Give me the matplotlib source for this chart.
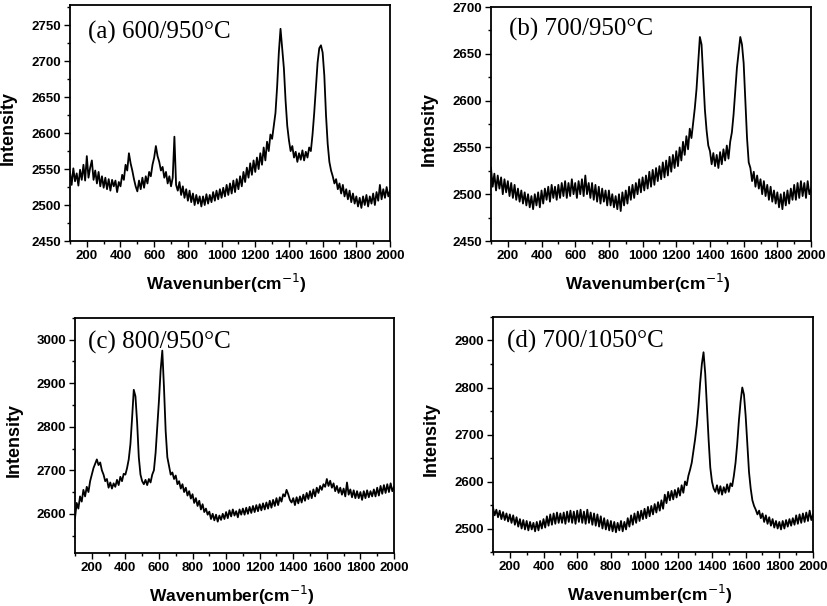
import numpy as np
import matplotlib
matplotlib.use("Agg")
import matplotlib.pyplot as plt
from matplotlib.ticker import MultipleLocator

plt.rcParams['font.family'] = ['Liberation Sans', 'DejaVu Sans']

# wavenumber grid, 100..2000 cm-1 every 10
wavenumber = np.arange(100, 2001, 10)

# (a) 600/950°C
spec_a = [
    2546, 2528, 2551, 2533, 2544, 2527, 2549, 2535, 2556, 2534,
    2568, 2538, 2552, 2562, 2535, 2548, 2530, 2546, 2526, 2540,
    2524, 2538, 2522, 2536, 2520, 2535, 2526, 2534, 2518, 2532,
    2526, 2542, 2535, 2556, 2548, 2572, 2558, 2548, 2536, 2526,
    2519, 2534, 2522, 2538, 2524, 2540, 2530, 2546, 2540, 2556,
    2566, 2582, 2568, 2560, 2548, 2553, 2538, 2546, 2530, 2540,
    2526, 2538, 2595, 2528, 2520, 2532, 2514, 2526, 2510, 2522,
    2506, 2520, 2504, 2516, 2500, 2514, 2502, 2512, 2498, 2512,
    2500, 2515, 2502, 2514, 2504, 2518, 2506, 2520, 2508, 2522,
    2510, 2524, 2512, 2528, 2514, 2530, 2516, 2534, 2518, 2536,
    2522, 2540, 2526, 2546, 2532, 2552, 2538, 2558, 2542, 2562,
    2546, 2566, 2550, 2572, 2556, 2580, 2562, 2588, 2575, 2598,
    2592, 2610, 2628, 2665, 2712, 2745, 2718, 2690, 2645, 2610,
    2590, 2575, 2582, 2566, 2574, 2560, 2572, 2563, 2576, 2562,
    2574, 2566, 2580, 2575, 2598, 2628, 2662, 2698, 2718, 2722,
    2712, 2680, 2625, 2585, 2560, 2548, 2540, 2530, 2536, 2522,
    2530, 2516, 2528, 2512, 2522, 2508, 2520, 2504, 2516, 2502,
    2512, 2498, 2510, 2496, 2512, 2500, 2514, 2498, 2512, 2502,
    2516, 2500, 2518, 2506, 2528, 2508, 2522, 2510, 2525, 2512,
    2520,
]

# (b) 700/950°C
spec_b = [
    2528, 2508, 2522, 2504, 2520, 2506, 2518, 2500, 2516, 2502,
    2514, 2498, 2512, 2496, 2510, 2494, 2506, 2492, 2504, 2490,
    2502, 2488, 2500, 2486, 2498, 2484, 2500, 2488, 2502, 2486,
    2504, 2490, 2506, 2494, 2508, 2492, 2510, 2496, 2508, 2494,
    2510, 2496, 2512, 2498, 2514, 2496, 2512, 2498, 2516, 2500,
    2512, 2496, 2514, 2500, 2516, 2498, 2520, 2500, 2512, 2496,
    2512, 2494, 2510, 2492, 2508, 2490, 2506, 2492, 2504, 2488,
    2504, 2488, 2500, 2486, 2498, 2484, 2500, 2482, 2502, 2488,
    2504, 2490, 2508, 2494, 2510, 2496, 2512, 2500, 2516, 2502,
    2518, 2504, 2520, 2506, 2524, 2508, 2526, 2510, 2528, 2514,
    2530, 2516, 2534, 2518, 2536, 2520, 2540, 2524, 2542, 2528,
    2546, 2530, 2550, 2536, 2556, 2542, 2562, 2548, 2570, 2560,
    2576, 2592, 2612, 2640, 2668, 2660, 2625, 2590, 2568, 2552,
    2546, 2532, 2544, 2530, 2542, 2528, 2545, 2532, 2548, 2536,
    2552, 2538, 2556, 2566, 2585, 2610, 2635, 2652, 2668, 2660,
    2640, 2600, 2560, 2534, 2528, 2514, 2524, 2508, 2520, 2506,
    2516, 2500, 2514, 2498, 2510, 2494, 2508, 2492, 2504, 2490,
    2502, 2486, 2500, 2484, 2502, 2488, 2504, 2490, 2506, 2494,
    2510, 2494, 2512, 2496, 2514, 2498, 2512, 2496, 2514, 2500,
    2506,
]

# (c) 800/950°C
spec_c = [
    2590, 2625, 2612, 2640, 2628, 2655, 2640, 2662, 2650, 2675,
    2690, 2705, 2715, 2725, 2712, 2718, 2700, 2690, 2675, 2680,
    2660, 2672, 2658, 2670, 2662, 2678, 2666, 2685, 2675, 2692,
    2690, 2705, 2725, 2760, 2820, 2885, 2870, 2810, 2730, 2690,
    2675, 2668, 2678, 2666, 2680, 2672, 2690, 2700, 2740, 2800,
    2860, 2930, 2975, 2890, 2790, 2730, 2710, 2690, 2695, 2680,
    2688, 2668, 2675, 2658, 2668, 2650, 2660, 2642, 2652, 2635,
    2645, 2625, 2636, 2618, 2630, 2610, 2622, 2604, 2612, 2598,
    2605, 2588, 2600, 2585, 2598, 2582, 2596, 2586, 2600, 2588,
    2604, 2590, 2608, 2594, 2610, 2596, 2606, 2592, 2610, 2598,
    2612, 2598, 2614, 2600, 2616, 2602, 2618, 2604, 2620, 2606,
    2622, 2608, 2624, 2610, 2626, 2612, 2630, 2614, 2632, 2618,
    2636, 2620, 2638, 2628, 2645, 2640, 2655, 2645, 2632, 2626,
    2636, 2620, 2638, 2624, 2640, 2626, 2644, 2630, 2648, 2634,
    2652, 2636, 2656, 2640, 2660, 2648, 2664, 2655, 2668, 2662,
    2680, 2664, 2676, 2660, 2670, 2652, 2664, 2648, 2660, 2644,
    2658, 2640, 2672, 2644, 2656, 2638, 2654, 2636, 2652, 2636,
    2650, 2632, 2652, 2636, 2654, 2638, 2652, 2640, 2656, 2640,
    2660, 2642, 2664, 2646, 2666, 2648, 2668, 2650, 2670, 2652,
    2662,
]

# (d) 700/1050°C
spec_d = [
    2545, 2528, 2540, 2524, 2538, 2520, 2535, 2518, 2532, 2515,
    2530, 2512, 2528, 2508, 2524, 2504, 2520, 2500, 2518, 2498,
    2516, 2496, 2514, 2498, 2512, 2494, 2514, 2496, 2516, 2500,
    2520, 2502, 2526, 2506, 2530, 2508, 2532, 2510, 2534, 2512,
    2532, 2512, 2534, 2510, 2536, 2514, 2538, 2512, 2536, 2510,
    2538, 2514, 2540, 2512, 2536, 2510, 2540, 2512, 2534, 2508,
    2532, 2506, 2530, 2504, 2526, 2500, 2522, 2498, 2518, 2496,
    2516, 2494, 2514, 2492, 2512, 2496, 2516, 2494, 2514, 2498,
    2522, 2504, 2528, 2508, 2532, 2512, 2536, 2516, 2538, 2520,
    2542, 2522, 2546, 2526, 2548, 2530, 2552, 2534, 2556, 2538,
    2560, 2542, 2572, 2554, 2578, 2560, 2580, 2562, 2582, 2566,
    2586, 2570, 2592, 2576, 2600, 2592, 2612, 2625, 2640, 2665,
    2690, 2720, 2760, 2810, 2850, 2875, 2830, 2760, 2690, 2630,
    2600, 2585, 2578, 2592, 2574, 2590, 2572, 2588, 2576, 2594,
    2578, 2596, 2590, 2612, 2640, 2680, 2730, 2770, 2800, 2785,
    2740, 2680, 2620, 2585, 2560, 2548, 2540, 2530, 2538, 2522,
    2532, 2514, 2528, 2510, 2524, 2506, 2520, 2502, 2516, 2500,
    2514, 2498, 2516, 2500, 2518, 2504, 2520, 2506, 2522, 2508,
    2528, 2510, 2530, 2512, 2532, 2514, 2534, 2516, 2538, 2518,
    2530,
]

titles = ["(a) 600/950°C", "(b) 700/950°C", "(c) 800/950°C", "(d) 700/1050°C"]
xlabels = ["Wavenunber(cm$^{-1}$)", "Wavenumber(cm$^{-1}$)",
           "Wavenumber(cm$^{-1}$)", "Wavenumber(cm$^{-1}$)"]
ylims = [(2450, 2778), (2450, 2700), (2510, 3050), (2450, 2950)]
ymajor = [50, 50, 100, 100]

# axes boxes in figure fractions
boxes = [
    [0.0846, 0.6023, 0.3870, 0.3894],
    [0.5937, 0.6023, 0.3870, 0.3861],
    [0.0907, 0.0875, 0.3857, 0.3878],
    [0.5961, 0.0891, 0.3870, 0.3878],
]
text_pos = [(0.055, 0.885), (0.055, 0.905), (0.040, 0.895), (0.045, 0.895)]

fig = plt.figure(figsize=(8.27, 6.06), dpi=100)

for i, spec in enumerate([spec_a, spec_b, spec_c, spec_d]):
    ax = fig.add_axes(boxes[i])
    ax.plot(wavenumber, spec, color='black', lw=1.3)
    ax.set_xlim(100, 2000)
    ax.set_ylim(*ylims[i])
    ax.xaxis.set_major_locator(MultipleLocator(200))
    ax.xaxis.set_minor_locator(MultipleLocator(100))
    ax.yaxis.set_major_locator(MultipleLocator(ymajor[i]))
    ax.yaxis.set_minor_locator(MultipleLocator(ymajor[i] / 2))
    ax.tick_params(which='both', direction='out', top=False, right=False,
                   labelsize=9.5, width=1.0, pad=2.5)
    ax.tick_params(which='major', length=4)
    ax.tick_params(which='minor', length=2.5)
    for lab in ax.get_xticklabels() + ax.get_yticklabels():
        lab.set_fontweight('bold')
    for sp in ax.spines.values():
        sp.set_linewidth(1.3)
    ax.set_xlabel(xlabels[i], fontsize=12.5, fontweight='bold')
    ax.set_ylabel("Intensity", fontsize=13, fontweight='bold')
    ax.xaxis.set_label_coords(0.49, -0.13)
    ax.yaxis.set_label_coords(-0.165, 0.48)
    ax.text(text_pos[i][0], text_pos[i][1], titles[i], transform=ax.transAxes,
            fontsize=18, family=['Liberation Serif', 'DejaVu Serif'],
            va='center', ha='left')

fig.savefig("out.png", dpi=100)
